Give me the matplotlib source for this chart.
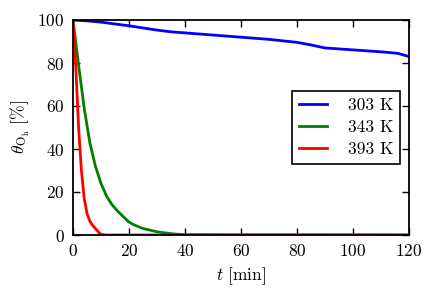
import numpy as np
from matplotlib import pyplot as plt

plt.rcParams['font.family'] = 'serif'
plt.rcParams['font.serif'] = ['cmr10']
plt.rcParams['mathtext.fontset'] = 'cm'
plt.rcParams['axes.formatter.use_mathtext'] = True
plt.rcParams['font.size'] = 12.5

# 303 K
t_303 = [0, 5, 10, 20, 30, 35, 40, 50, 60, 70, 80, 85, 90, 100, 110, 116, 120]
th_303 = [100, 99.6, 99.0, 97.3, 95.3, 94.5, 94.0, 93.0, 92.0, 91.0, 89.6, 88.4, 87.0, 86.1, 85.2, 84.5, 83.0]

# 343 K
t_343 = [0, 2, 4, 6, 8, 10, 12, 14, 16, 18, 20, 22, 25, 30, 35, 40, 120]
th_343 = [100, 79, 59, 43, 32, 24, 18, 14, 11, 8.5, 6, 4.6, 3.0, 1.5, 0.6, 0.1, 0]

# 393 K
t_393 = [0, 1, 2, 3, 4, 5, 6, 7, 8, 9, 10, 12, 120]
th_393 = [100, 78, 50, 30, 17, 10, 6.5, 4.5, 3.0, 1.5, 0.3, 0, 0]

labels = ['303 K', '343 K', '393 K']
colors = ['b', 'g', 'r']

fig = plt.figure(figsize=(4.36, 2.93), dpi=100)
ax = fig.add_axes([73/436, 1-235/293, (409-73)/436, (235-20)/293])

ax.plot(t_303, th_303, color=colors[0], lw=2, label=labels[0])
ax.plot(t_343, th_343, color=colors[1], lw=2, label=labels[1])
ax.plot(t_393, th_393, color=colors[2], lw=2, label=labels[2])

ax.set_xlim(0, 120)
ax.set_ylim(0, 100)
ax.set_xticks([0, 20, 40, 60, 80, 100, 120])
ax.set_yticks([0, 20, 40, 60, 80, 100])
ax.tick_params(direction='in', top=True, right=True, length=5, width=1, pad=6)
for s in ax.spines.values():
    s.set_linewidth(1.3)

ax.set_xlabel(r'$t\ [\mathrm{min}]$')
ax.set_ylabel(r'$\theta_{\mathrm{O_h}}\ [\%]$')

leg = ax.legend(loc='center right', handlelength=1.6, handletextpad=1.2,
                labelspacing=0.4, borderaxespad=0.5, fancybox=False,
                framealpha=1, edgecolor='k')
leg.get_frame().set_linewidth(1.2)

plt.savefig('out.png', dpi=100)
